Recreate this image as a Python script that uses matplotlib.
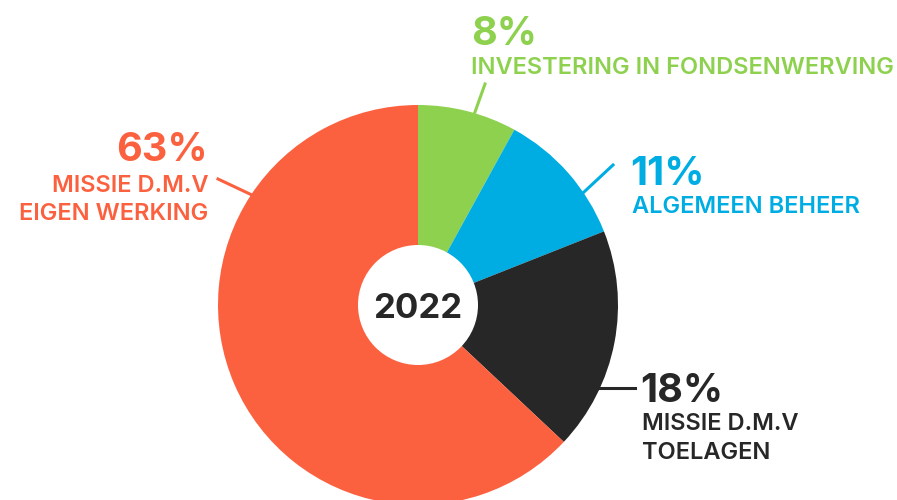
import matplotlib
matplotlib.use("Agg")
from matplotlib import pyplot as plt
from matplotlib.patches import Circle

plt.rcParams['font.family'] = ['Inter', 'DejaVu Sans']

# data
labels = ["INVESTERING IN FONDSENWERVING", "ALGEMEEN BEHEER",
          "MISSIE D.M.V\nTOELAGEN", "MISSIE D.M.V\nEIGEN WERKING"]
shares = [8, 11, 18, 63]
colors = ['#8DD14F', '#00ADE3', '#272727', '#FC613F']
year = "2022"

fig = plt.figure(figsize=(8.97, 5.0), dpi=100)
ax = fig.add_axes([0, 0, 1, 1])

# with the y axis flipped, counterclock in data space draws clockwise on screen
ax.pie(shares, colors=colors, center=(418, 305), radius=200,
       startangle=-90, counterclock=True, frame=True,
       wedgeprops=dict(linewidth=0))
ax.set_xlim(0, 897)
ax.set_ylim(500, 0)  # pixel coordinates, y grows downward
ax.set_aspect('equal')
ax.axis('off')
ax.add_patch(Circle((418, 305), 60, facecolor='white', edgecolor='none', zorder=3))
ax.text(418, 318, year, ha='center', va='baseline', fontsize=25,
        fontweight='bold', color='#272727', zorder=4)

# leader lines
ax.plot([475, 485], [112, 84], color=colors[0], lw=2.2)
ax.plot([584, 613], [192, 165], color=colors[1], lw=2.2)
ax.plot([600, 635], [388, 388], color=colors[2], lw=2.2)
ax.plot([252, 218], [195, 179], color=colors[3], lw=2.2)

big = dict(fontsize=28.5, fontweight='bold', va='baseline')
small = dict(fontsize=17, fontweight='semibold', va='baseline')

ax.text(471, 45, f"{shares[0]}%", color=colors[0], ha='left', **big)
ax.text(471, 74, labels[0], color=colors[0], ha='left', **small)

ax.text(630, 185, f"{shares[1]}%", color=colors[1], ha='left', **big)
ax.text(632, 213, labels[1], color=colors[1], ha='left', **small)

ax.text(640, 402, f"{shares[2]}%", color=colors[2], ha='left', **big)
ax.text(642, 430, labels[2].split("\n")[0], color=colors[2], ha='left', **small)
ax.text(642, 459, labels[2].split("\n")[1], color=colors[2], ha='left', **small)

ax.text(208, 161, f"{shares[3]}%", color=colors[3], ha='right', **big)
ax.text(208, 192, labels[3].split("\n")[0], color=colors[3], ha='right', **small)
ax.text(208, 220, labels[3].split("\n")[1], color=colors[3], ha='right', **small)

plt.savefig("out.png", dpi=100)
